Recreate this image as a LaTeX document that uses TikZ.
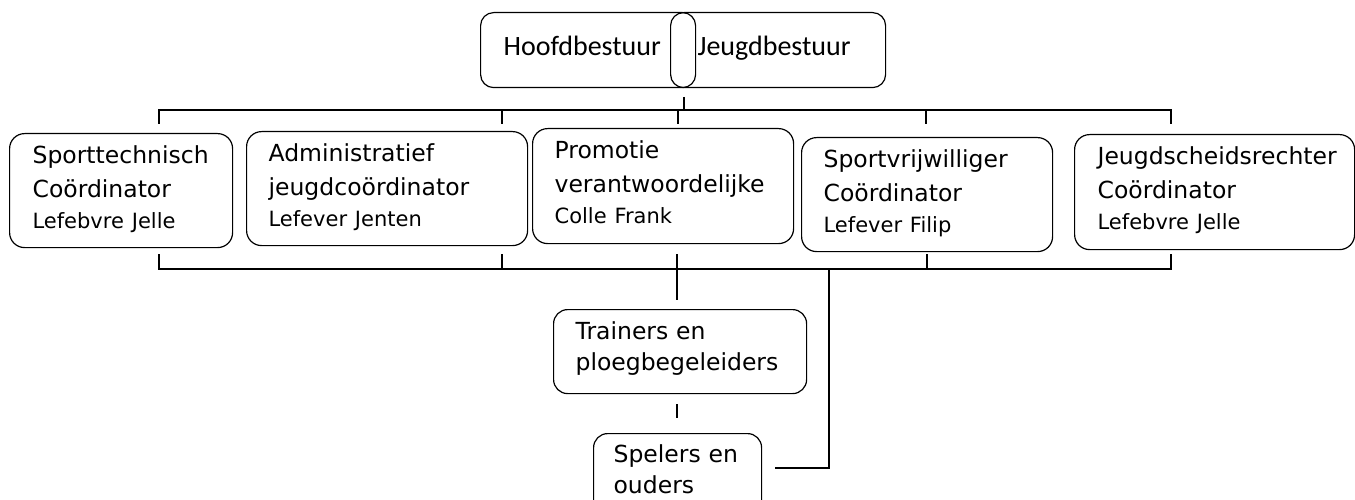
\documentclass[tikz,border=0pt]{standalone}
\usepackage{fontspec}
\setmainfont{DejaVu Sans}
\newfontfamily\calibri{Carlito}
\usetikzlibrary{positioning}
\hyphenpenalty=10000
\tikzstyle{block} = [draw, rectangle, rounded corners=15pt, line width=1.2pt,
    anchor=north west, align=left, inner xsep=22pt, inner ysep=0pt,
    text height=30pt, font=\fontsize{23.5}{34}\selectfont]
\tikzstyle{unit} = [block, rounded corners=14pt, font=\fontsize{23.5}{31}\selectfont]
\tikzstyle{board} = [block, rounded corners=13pt, text height=43pt, text depth=32pt,
    font=\calibri\fontsize{28}{34}\selectfont]
\tikzstyle{point} = [coordinate]
\tikzstyle{link} = [line width=2pt]
\newcommand{\who}[1]{\\[-3pt]{\fontsize{21}{31}\selectfont #1}}

\begin{document}
\begin{tikzpicture}[x=1pt, y=-1pt]
    \useasboundingbox (0,0) rectangle (1355,500);
    \clip (0,0) rectangle (1355,500);
    % boards
    \node [board, inner xsep=23pt, text width=169pt] (hoofd) at (480,12) {Hoofdbestuur};
    \node [board, inner xsep=27pt, text width=161pt] (jeugd) at (670,12) {Jeugdbestuur};
    % coordinators
    \node [block, inner xsep=23pt, text width=177pt, text depth=84pt] (sport) at (9,133)
        {Sporttechnisch\\Coördinator\who{Lefebvre Jelle}};
    \node [block, text width=237pt, text depth=84pt] (admin) at (246,131)
        {Administratief\\jeugdcoördinator\who{Lefever Jenten}};
    \node [block, text width=217pt, text depth=85pt] (promo) at (532,128)
        {Promotie\\verantwoordelijke\who{Colle Frank}};
    \node [block, text width=207pt, text depth=84pt] (vrij) at (801,137)
        {Sportvrijwilliger\\Coördinator\who{Lefever Filip}};
    \node [block, inner xsep=23pt, text width=234pt, text depth=85pt] (scheids) at (1074,134)
        {Jeugdscheidsrechter\\Coördinator\who{Lefebvre Jelle}};
    % teams
    \node [unit, text width=209pt, text depth=54pt] (trainers) at (553,309)
        {Trainers en\\ploegbegeleiders};
    \node [unit, inner xsep=20pt, text width=128pt, text height=29pt, text depth=55pt] (spelers) at (593,433)
        {Spelers en\\ouders};
    % connector points
    \node [point, name=root] at (684,97) {};
    \node [point, name=rootbar] at (684,110) {};
    \node [point, name=down] at (677,254) {};
    \node [point, name=downend] at (677,300) {};
    \node [point, name=gap] at (677,404) {};
    \node [point, name=gapend] at (677,418) {};
    \node [point, name=side] at (829,269) {};
    \node [point, name=sidebend] at (829,468) {};
    \node [point, name=sideend] at (775,468) {};
    \foreach \tx/\tn in {159/a,502/b,678/c,926/d,1171/e} {
        \node [point] (up\tn) at (\tx,110) {};
        \node [point] (upt\tn) at (\tx,124) {};
    }
    \foreach \tx/\tn in {159/a,502/b,927/d,1171/e} {
        \node [point] (lo\tn) at (\tx,269) {};
        \node [point] (lot\tn) at (\tx,254) {};
    }
    \draw [link] (root) -- (rootbar);
    \draw [link] (upta) -- (upa) -- (upe) -- (upte);
    \foreach \tn in {b,c,d} \draw [link] (up\tn) -- (upt\tn);
    \draw [link] (lota) -- (loa) -- (loe) -- (lote);
    \foreach \tn in {b,d} \draw [link] (lo\tn) -- (lot\tn);
    \draw [link] (down) -- (downend);
    \draw [link] (gap) -- (gapend);
    \draw [link] (side) -- (sidebend) -- (sideend);
\end{tikzpicture}
\end{document}
